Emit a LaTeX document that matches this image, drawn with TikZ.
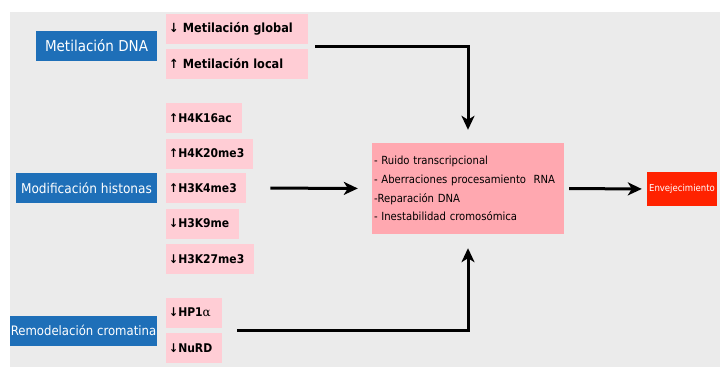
\documentclass[tikz,border=0pt]{standalone}
\usepackage{fontspec}
\setmainfont{DejaVu Sans Condensed}
\usetikzlibrary{arrows.meta}
\definecolor{blueBox}{RGB}{30,111,184}
\definecolor{pinkBox}{RGB}{255,205,213}
\definecolor{roseBox}{RGB}{255,168,176}
\definecolor{redBox}{RGB}{255,34,0}
\definecolor{backGray}{RGB}{235,235,235}

\begin{document}
\begin{tikzpicture}[x=1pt,y=1pt,yscale=-1,
  bluebox/.style={fill=blueBox,text=white,minimum height=30pt,inner sep=0pt},
  pinkbox/.style={fill=pinkBox,anchor=west,minimum height=30pt,inner xsep=3pt,inner ysep=0pt,align=left},
  bigarrow/.style={line width=3pt,-{Stealth[length=14pt,width=13pt,inset=4pt]}}]
\useasboundingbox (0,0) rectangle (720,367);
%Background
\fill [backGray] (10,12) rectangle (720,367);

%Blue labels
\node [bluebox,minimum width=121pt,font=\fontsize{15}{17}\selectfont] (metdna) at (96.5,46) {Metilación DNA};
\node [bluebox,minimum width=141pt,font=\fontsize{13.5}{16}\selectfont] (modhist) at (86.5,188) {Modificación histonas};
\node [bluebox,minimum width=147pt,font=\fontsize{13}{16}\selectfont] (remod) at (83.5,330.5) {Remodelación cromatina};

%Pink labels: methylation
\node [pinkbox,text width=136pt,font=\bfseries\fontsize{12.6}{15}\selectfont] (mglobal) at (166,28.5) {↓ Metilación global};
\node [pinkbox,text width=136pt,font=\bfseries\fontsize{12.6}{15}\selectfont] (mlocal) at (166,64) {↑ Metilación local};

%Pink labels: histones
\node [pinkbox,text width=70pt,font=\bfseries\fontsize{12}{14}\selectfont] (h4k16) at (166,118) {↑H4K16ac};
\node [pinkbox,text width=81pt,font=\bfseries\fontsize{12}{14}\selectfont] (h4k20) at (166,153.5) {↑H4K20me3};
\node [pinkbox,text width=74pt,font=\bfseries\fontsize{12}{14}\selectfont] (h3k4) at (166,188) {↑H3K4me3};
\node [pinkbox,text width=67pt,font=\bfseries\fontsize{12}{14}\selectfont] (h3k9) at (166,223.5) {↓H3K9me};
\node [pinkbox,text width=82pt,font=\bfseries\fontsize{12}{14}\selectfont] (h3k27) at (166,259) {↓H3K27me3};

%Pink labels: chromatin
\node [pinkbox,text width=50pt,font=\bfseries\fontsize{12}{14}\selectfont] (hp1) at (166,312.5) {↓HP1{\mdseries\fontspec{DejaVu Serif}α}};
\node [pinkbox,text width=50pt,font=\bfseries\fontsize{12}{14}\selectfont] (nurd) at (166,348) {↓NuRD};

%Effects
\node [fill=roseBox,minimum width=192pt,minimum height=91pt,inner xsep=2pt,text width=188pt,align=left,
  font=\fontsize{11.2}{18.7}\selectfont] (efectos) at (468,188.5)
  {- Ruido transcripcional\\- Aberraciones procesamiento\ \ RNA\\-Reparación DNA\\- Inestabilidad cromosómica};
\node [fill=redBox,text=white,minimum width=70pt,minimum height=34pt,inner sep=0pt,font=\fontsize{9.5}{11}\selectfont] (env) at (682,189) {Envejecimiento};

%Connectors
\coordinate (mstart) at (315,46);
\coordinate (rstart) at (237,330);
\draw [bigarrow,shorten >=13pt] (mstart) -| (efectos.north);
\draw [bigarrow,shorten <=24pt,shorten >=14pt] (h3k4.east) -- (efectos.west);
\draw [bigarrow,shorten >=14pt] (rstart) -| (efectos.south);
\draw [bigarrow,shorten <=5pt,shorten >=5pt] (efectos.east) -- (env.west);
\end{tikzpicture}
\end{document}
